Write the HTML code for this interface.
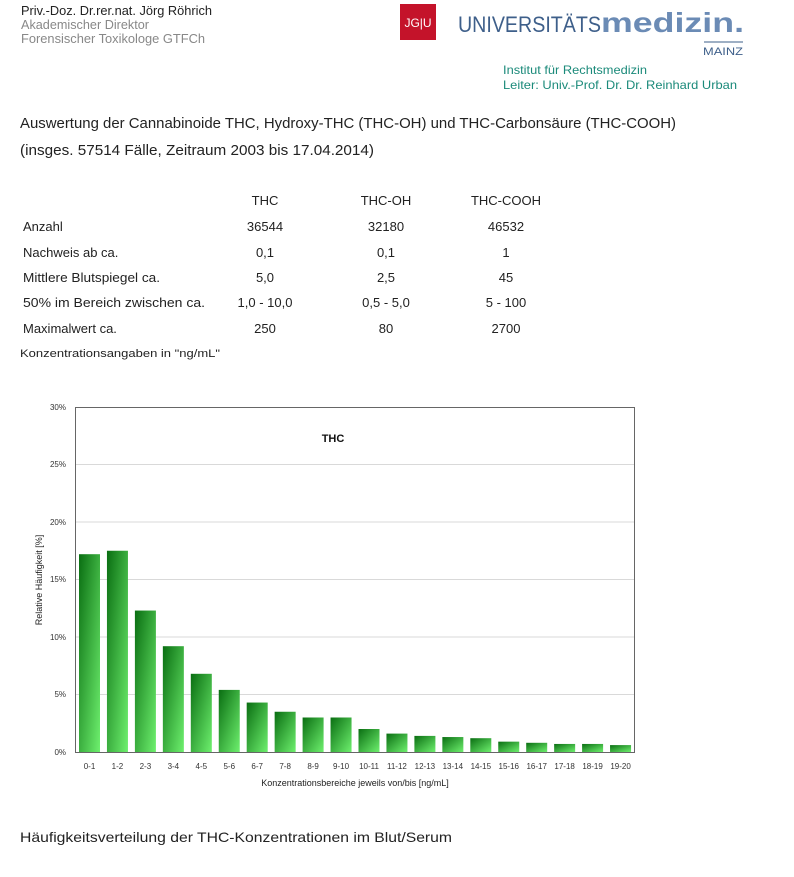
<!DOCTYPE html>
<html><head><meta charset="utf-8"><style>
html,body{margin:0;padding:0;background:#fff}
svg{display:block}
text{font-family:"Liberation Sans",sans-serif}
</style></head><body>
<svg width="794" height="877" viewBox="0 0 794 877" xmlns="http://www.w3.org/2000/svg">
<defs>
<linearGradient id="g" x1="0" y1="0" x2="1" y2="1">
<stop offset="0" stop-color="#0a6e12"/><stop offset="1" stop-color="#6ef06e"/>
</linearGradient>
</defs>
<!-- header -->
<text x="21" y="15" font-size="12.5" fill="#222" textLength="191" lengthAdjust="spacingAndGlyphs">Priv.-Doz. Dr.rer.nat. Jörg Röhrich</text>
<text x="21" y="29" font-size="12.5" fill="#888" textLength="128" lengthAdjust="spacingAndGlyphs">Akademischer Direktor</text>
<text x="21" y="43" font-size="12.5" fill="#888" textLength="184" lengthAdjust="spacingAndGlyphs">Forensischer Toxikologe GTFCh</text>
<rect x="400" y="4" width="36" height="36" fill="#c4132a"/>
<text x="418" y="27" font-size="12" fill="#fff" text-anchor="middle" font-family="Liberation Serif">JG|U</text>
<text x="458" y="32" font-size="22" fill="#3e5f8a" textLength="143" lengthAdjust="spacingAndGlyphs">UNIVERSITÄTS</text>
<text x="601" y="32" font-size="28" font-weight="bold" fill="#6b8bb5" textLength="143" lengthAdjust="spacingAndGlyphs">medizin.</text>
<line x1="704" y1="42" x2="743" y2="42" stroke="#3e5f8a" stroke-width="1"/>
<text x="703" y="55" font-size="11" fill="#3e5f8a" textLength="40" lengthAdjust="spacingAndGlyphs">MAINZ</text>
<text x="503" y="74" font-size="12" fill="#1b8a7a" textLength="144" lengthAdjust="spacingAndGlyphs">Institut für Rechtsmedizin</text>
<text x="503" y="89" font-size="12" fill="#1b8a7a" textLength="234" lengthAdjust="spacingAndGlyphs">Leiter: Univ.-Prof. Dr. Dr. Reinhard Urban</text>
<!-- title -->
<text x="20" y="128" font-size="15" fill="#222" textLength="656" lengthAdjust="spacingAndGlyphs">Auswertung der Cannabinoide THC, Hydroxy-THC (THC-OH) und THC-Carbonsäure (THC-COOH)</text>
<text x="20" y="155" font-size="15" fill="#222" textLength="354" lengthAdjust="spacingAndGlyphs">(insges. 57514 Fälle, Zeitraum 2003 bis 17.04.2014)</text>
<!-- table -->
<g font-size="13" fill="#222">
<text x="265" y="205" text-anchor="middle">THC</text>
<text x="386" y="205" text-anchor="middle">THC-OH</text>
<text x="506" y="205" text-anchor="middle">THC-COOH</text>
<text x="23" y="231">Anzahl</text>
<text x="265" y="231" text-anchor="middle">36544</text><text x="386" y="231" text-anchor="middle">32180</text><text x="506" y="231" text-anchor="middle">46532</text>
<text x="23" y="257">Nachweis ab ca.</text>
<text x="265" y="257" text-anchor="middle">0,1</text><text x="386" y="257" text-anchor="middle">0,1</text><text x="506" y="257" text-anchor="middle">1</text>
<text x="23" y="282" textLength="137" lengthAdjust="spacingAndGlyphs">Mittlere Blutspiegel ca.</text>
<text x="265" y="282" text-anchor="middle">5,0</text><text x="386" y="282" text-anchor="middle">2,5</text><text x="506" y="282" text-anchor="middle">45</text>
<text x="23" y="307" textLength="182" lengthAdjust="spacingAndGlyphs">50% im Bereich zwischen ca.</text>
<text x="265" y="307" text-anchor="middle">1,0 - 10,0</text><text x="386" y="307" text-anchor="middle">0,5 - 5,0</text><text x="506" y="307" text-anchor="middle">5 - 100</text>
<text x="23" y="333">Maximalwert ca.</text>
<text x="265" y="333" text-anchor="middle">250</text><text x="386" y="333" text-anchor="middle">80</text><text x="506" y="333" text-anchor="middle">2700</text>
</g>
<text x="20" y="357" font-size="11" fill="#222" textLength="200" lengthAdjust="spacingAndGlyphs">Konzentrationsangaben in "ng/mL"</text>
<!-- chart -->
<g stroke="#d9d9d9" stroke-width="1">
<line x1="75" y1="464.5" x2="634" y2="464.5"/><line x1="75" y1="522" x2="634" y2="522"/>
<line x1="75" y1="579.5" x2="634" y2="579.5"/><line x1="75" y1="637" x2="634" y2="637"/>
<line x1="75" y1="694.5" x2="634" y2="694.5"/>
</g>
<rect x="75.5" y="407.5" width="559" height="345" fill="none" stroke="#666" stroke-width="1"/>
<g font-size="8" fill="#333" text-anchor="end">
<text x="66" y="410">30%</text><text x="66" y="467">25%</text><text x="66" y="525">20%</text>
<text x="66" y="582">15%</text><text x="66" y="640">10%</text><text x="66" y="697">5%</text><text x="66" y="755">0%</text>
</g>
<text x="333" y="442" font-size="11" font-weight="bold" fill="#111" text-anchor="middle">THC</text>
<text transform="translate(42,580) rotate(-90)" font-size="9" fill="#222" text-anchor="middle">Relative Häufigkeit [%]</text>
<text x="355" y="786" font-size="9" fill="#222" text-anchor="middle">Konzentrationsbereiche jeweils von/bis [ng/mL]</text>
<g id="bars"></g>
<g id="xl" font-size="8" fill="#333" text-anchor="middle"></g>
<text x="20" y="842" font-size="14" fill="#222" textLength="432" lengthAdjust="spacingAndGlyphs">Häufigkeitsverteilung der THC-Konzentrationen im Blut/Serum</text>
</svg>
<script>
var v=[17.2,17.5,12.3,9.2,6.8,5.4,4.3,3.5,3.0,3.0,2.0,1.6,1.4,1.3,1.2,0.9,0.8,0.7,0.7,0.6];
var b=document.getElementById('bars'),xl=document.getElementById('xl'),ns="http://www.w3.org/2000/svg";
for(var i=0;i<v.length;i++){var x=79+i*27.95,h=v[i]*11.5;
var r=document.createElementNS(ns,'rect');r.setAttribute('x',x);r.setAttribute('y',752-h);r.setAttribute('width',21);r.setAttribute('height',h);r.setAttribute('fill','url(#g)');b.appendChild(r);
var t=document.createElementNS(ns,'text');t.setAttribute('x',x+10.5);t.setAttribute('y',769);t.textContent=i+'-'+(i+1);xl.appendChild(t);}
</script>
</body></html>
